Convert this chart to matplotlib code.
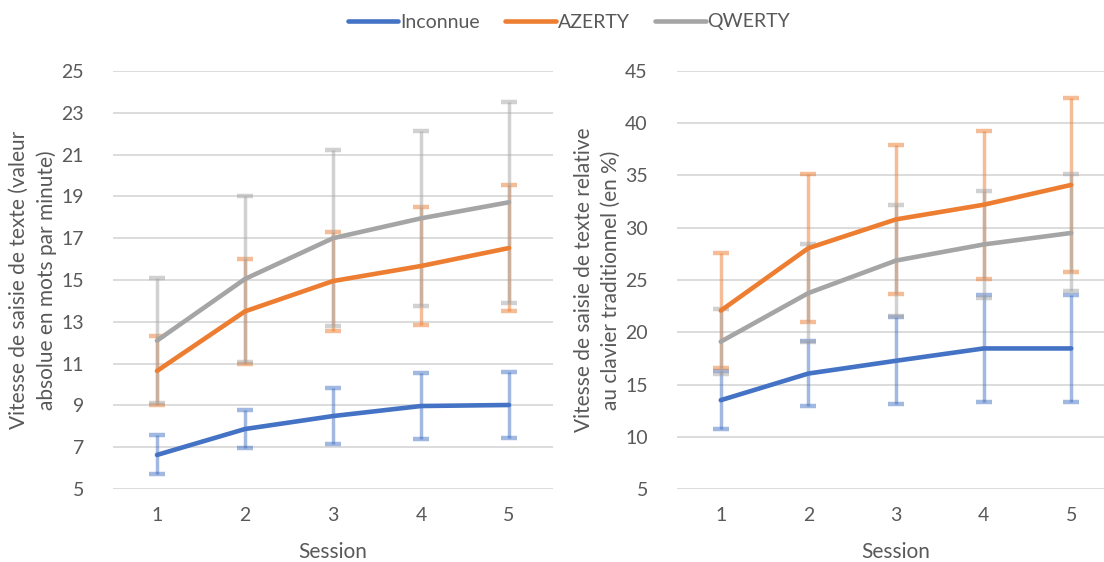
import matplotlib.pyplot as plt
import numpy as np

plt.rcParams['font.family'] = ['Lato', 'DejaVu Sans']

sessions = [1, 2, 3, 4, 5]
series = ["Inconnue", "AZERTY", "QWERTY"]
colors = ["#4472C4", "#ED7D31", "#A5A5A5"]

# vitesse absolue (mots par minute) + écarts-types
abs_inconnue = [6.63, 7.87, 8.49, 8.97, 9.02]
abs_inconnue_err = [0.93, 0.93, 1.34, 1.58, 1.57]
abs_azerty = [10.65, 13.5, 14.95, 15.67, 16.53]
abs_azerty_err = [1.65, 2.5, 2.37, 2.8, 3.0]
abs_qwerty = [12.1, 15.05, 17.0, 17.95, 18.72]
abs_qwerty_err = [2.98, 3.96, 4.22, 4.2, 4.8]

# vitesse relative au clavier traditionnel (%)
rel_inconnue = [13.5, 16.05, 17.27, 18.45, 18.45]
rel_inconnue_err = [2.8, 3.1, 4.15, 5.1, 5.1]
rel_azerty = [22.07, 28.05, 30.8, 32.2, 34.1]
rel_azerty_err = [5.5, 7.1, 7.1, 7.1, 8.3]
rel_qwerty = [19.1, 23.75, 26.86, 28.4, 29.5]
rel_qwerty_err = [3.1, 4.7, 5.3, 5.1, 5.6]

txt = "#595959"

fig = plt.figure(figsize=(11.04, 5.62), dpi=100)
ax1 = fig.add_axes([113/1104, 73/562, 440/1104, 418/562])
ax2 = fig.add_axes([677/1104, 73/562, 438/1104, 418/562])


def draw(ax, vals, errs, ylim, step, ylabel):
    ax.set_xlim(0.5, 5.5)
    ax.set_ylim(*ylim)
    ax.set_yticks(np.arange(ylim[0], ylim[1] + 0.1, step))
    ax.set_xticks(sessions)
    ax.grid(axis='y', color='#D9D9D9', linewidth=1.3)
    ax.set_axisbelow(True)
    for s in ax.spines.values():
        s.set_visible(False)
    ax.tick_params(length=0, colors=txt, labelsize=14)
    ax.tick_params(axis='y', pad=21)
    ax.tick_params(axis='x', pad=13)
    handles = []
    for v, e, c, name in zip(vals, errs, colors, series):
        ax.errorbar(sessions, v, yerr=e, fmt='none', ecolor=c, alpha=0.5,
                    elinewidth=2.5, capsize=5.5, capthick=3.2, zorder=2)
    for v, e, c, name in zip(vals, errs, colors, series):
        h, = ax.plot(sessions, v, color=c, linewidth=3.3, label=name,
                     solid_capstyle='round', zorder=3)
        handles.append(h)
    ax.set_xlabel("Session", color=txt, fontsize=15, labelpad=13)
    ax.set_ylabel(ylabel, color=txt, fontsize=15, labelpad=3,
                  linespacing=1.45)
    return handles


handles = draw(ax1, [abs_inconnue, abs_azerty, abs_qwerty],
               [abs_inconnue_err, abs_azerty_err, abs_qwerty_err],
               (5, 25), 2,
               "Vitesse de saisie de texte (valeur\nabsolue en mots par minute)")
draw(ax2, [rel_inconnue, rel_azerty, rel_qwerty],
     [rel_inconnue_err, rel_azerty_err, rel_qwerty_err],
     (5, 45), 5,
     "Vitesse de saisie de texte relative\nau clavier traditionnel (en %)")

leg = fig.legend(handles=handles, loc='center', bbox_to_anchor=(569/1104, 1 - 22/562),
                 ncol=3, frameon=False, fontsize=14, handlelength=2.6,
                 handletextpad=0.1, columnspacing=1.3)
for t in leg.get_texts():
    t.set_color(txt)

fig.savefig("out.png", dpi=100)
